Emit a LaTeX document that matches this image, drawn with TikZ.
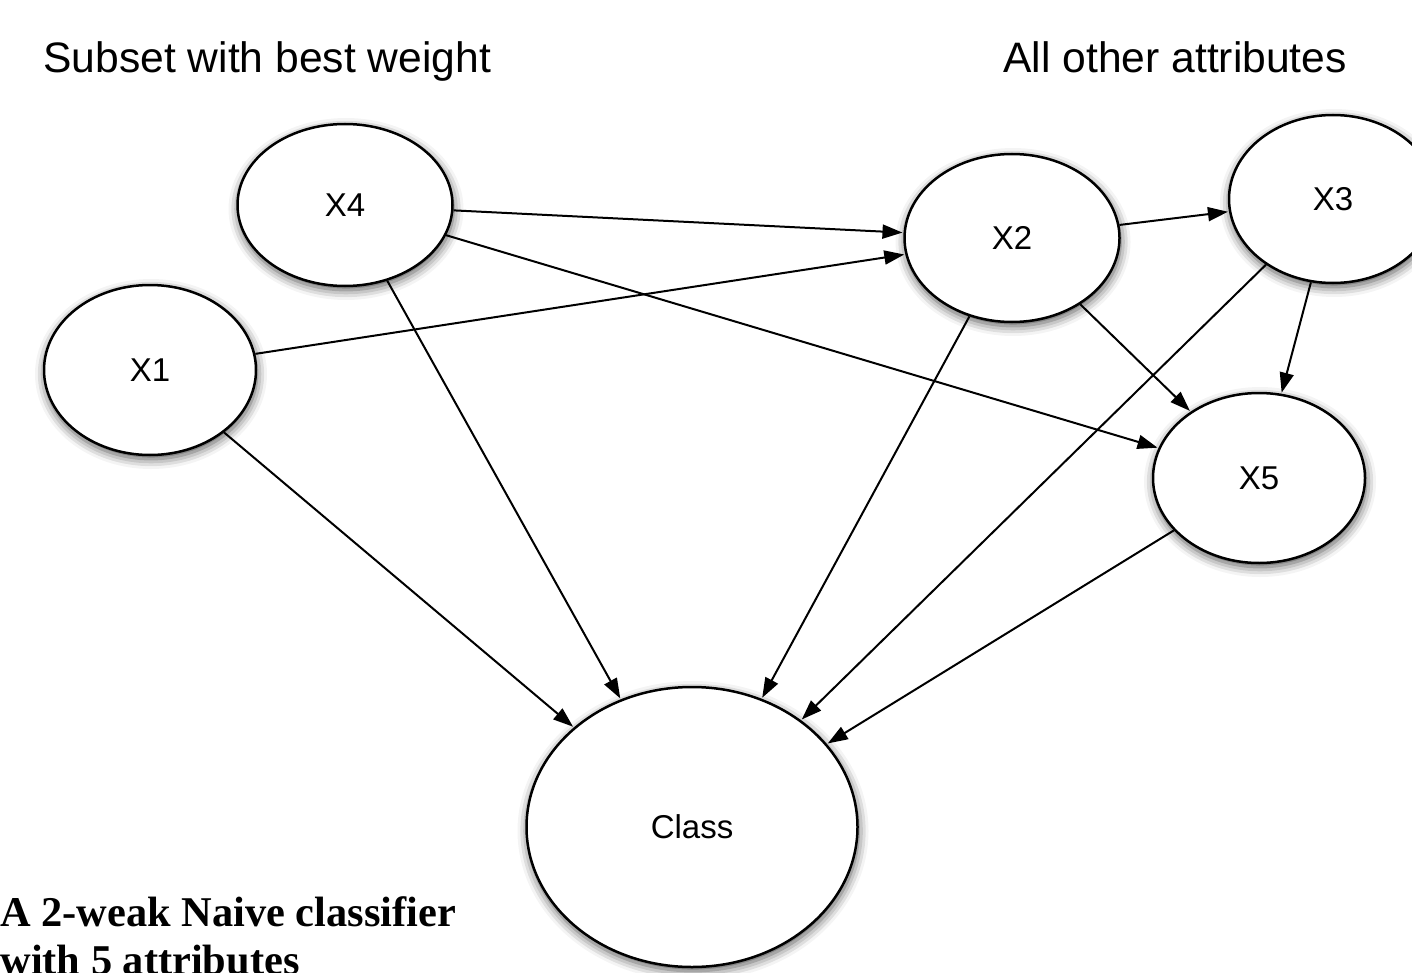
\documentclass[tikz,border=0pt]{standalone}
\usepackage{fontspec}
\setmainfont{Liberation Sans}
\newfontfamily\timesfont{Liberation Serif}
\usetikzlibrary{shapes.geometric,arrows.meta,shadows.blur}
\begin{document}
\begin{tikzpicture}[x=0.5pt,y=-0.5pt,
  var/.style={ellipse,draw=black,line width=1.25pt,fill=white,inner sep=0pt,
    font=\fontsize{16.5}{18}\selectfont,
    blur shadow={shadow xshift=0.5pt,shadow yshift=-2pt,shadow blur radius=5pt,shadow opacity=70}},
  arr/.style={-{Triangle[length=10pt,width=7pt]},line width=1pt,shorten >=0.5pt},
  head/.style={font=\fontsize{21.3}{24}\selectfont,inner sep=0pt}]
\useasboundingbox (0,0) rectangle (1412,973);
\node[head,anchor=base west] (h1) at (43,73) {Subset with best weight};
\node[head,anchor=base west] (h2) at (1003,73) {All other attributes};
\node[var,minimum width=106pt,minimum height=85pt] (x1) at (150,370) {X1};
\node[var,minimum width=107.5pt,minimum height=81pt] (x4) at (345,205) {X4};
\node[var,minimum width=107.5pt,minimum height=84pt] (x2) at (1012,238) {X2};
\node[var,minimum width=104pt,minimum height=84pt] (x3) at (1333,199) {X3};
\node[var,minimum width=106pt,minimum height=85pt] (x5) at (1259,478) {X5};
\node[var,minimum width=165.5pt,minimum height=140pt] (cl) at (692,827) {Class};
\draw[arr] (x4) -- (x2);
\draw[arr] (x4) -- (x5);
\draw[arr] (x4) -- (cl);
\draw[arr] (x1) -- (x2);
\draw[arr] (x1) -- (cl);
\draw[arr] (x2) -- (x3);
\draw[arr] (x2) -- (x5);
\draw[arr] (x2) -- (cl);
\draw[arr] (x3) -- (x5);
\draw[arr] (x3) -- (cl);
\draw[arr] (x5) -- (cl);
\node[anchor=base west,align=left,inner sep=0pt,font=\timesfont\bfseries\fontsize{21.2}{24}\selectfont] (cap) at (0,974) {A 2-weak Naive classifier\\with 5 attributes};
\end{tikzpicture}
\end{document}
